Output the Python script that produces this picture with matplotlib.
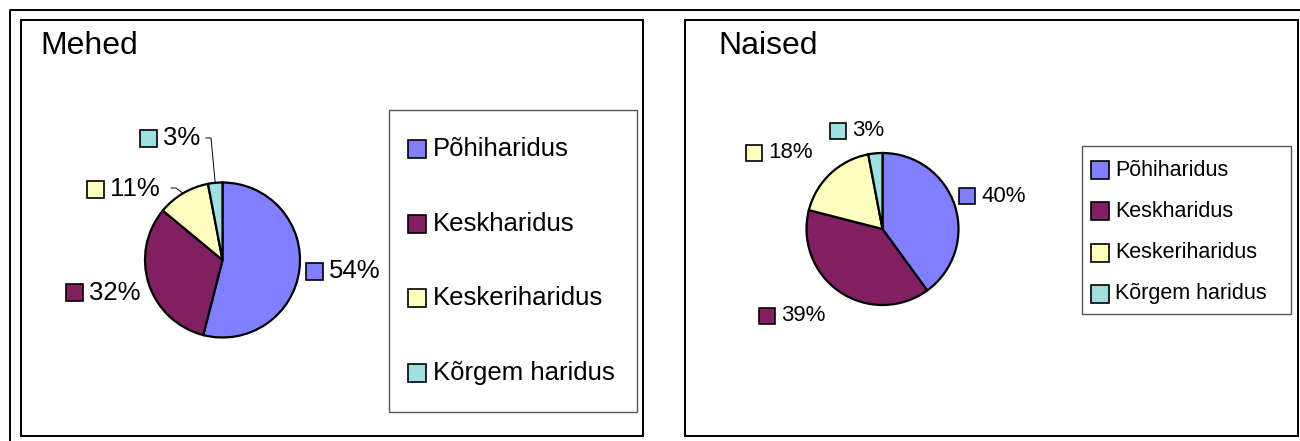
import matplotlib.pyplot as plt
from matplotlib.patches import Rectangle

plt.rcParams['font.family'] = ['Liberation Sans', 'DejaVu Sans']

# data
categories = ["Põhiharidus", "Keskharidus", "Keskeriharidus", "Kõrgem haridus"]
colors = ["#8080FF", "#802060", "#FFFFC0", "#A0E0E0"]
men_share = [54, 32, 11, 3]
women_share = [40, 39, 18, 3]
panel_titles = ["Mehed", "Naised"]

W, H = 1300, 441
fig = plt.figure(figsize=(13, 4.41), dpi=100)
fig.patch.set_facecolor("white")

# full-figure axes working in pixel coordinates (y down) for frames, labels, legends
bg = fig.add_axes([0, 0, 1, 1])
bg.set_xlim(0, W)
bg.set_ylim(H, 0)
bg.axis("off")

# outer frame (cropped on right / bottom) and the two panel boxes
bg.plot([10, 10, W], [H, 10, 10], color="black", lw=1.4, solid_capstyle="butt")
bg.add_patch(Rectangle((21, 20), 622, 416, fill=False, ec="black", lw=1.4))
bg.add_patch(Rectangle((685, 20), 613, 416, fill=False, ec="black", lw=1.4))
bg.text(40, 46, panel_titles[0], fontsize=23, va="center", ha="left")
bg.text(718, 46, panel_titles[1], fontsize=23, va="center", ha="left")


def draw_pie(values, cx, cy, r):
    ax = fig.add_axes([(cx - r) / W, (H - cy - r) / H, 2 * r / W, 2 * r / H])
    wedges, _ = ax.pie(values, colors=colors, startangle=90, counterclock=False,
                       radius=1, wedgeprops=dict(edgecolor="black", linewidth=1.6))
    ax.set_xlim(-1, 1)
    ax.set_ylim(-1, 1)
    ax.set_aspect("auto")
    ax.axis("off")
    return ax, wedges


def edge_point(ax, wedge):
    import numpy as np
    mid = np.deg2rad((wedge.theta1 + wedge.theta2) / 2)
    disp = ax.transData.transform((np.cos(mid), np.sin(mid)))
    return bg.transData.inverted().transform(disp)


def pct_label(x, y, val, color, size, fs):
    bg.add_patch(Rectangle((x, y - size / 2), size, size, fc=color, ec="black", lw=1.2))
    bg.text(x + size + 6, y, f"{val}%", fontsize=fs, va="center", ha="left")


# men
ax_m, wedges_m = draw_pie(men_share, 222.5, 260, 77.5)
men_lbl = [(306, 271), (66, 292.5), (87, 189.5), (140, 138)]
for (x, y), v, c in zip(men_lbl, men_share, colors):
    pct_label(x, y, v, c, 17, 18.5)
ex, ey = edge_point(ax_m, wedges_m[3])
bg.plot([206, 211, ex], [138, 138, ey], color="black", lw=0.7)
ex, ey = edge_point(ax_m, wedges_m[2])
bg.plot([171, 176, ex], [188, 188, ey], color="black", lw=0.7)

# women
ax_w, wedges_w = draw_pie(women_share, 882.5, 229, 76)
women_lbl = [(959, 196), (759, 315.5), (746, 153), (830, 130.5)]
for (x, y), v, c in zip(women_lbl, women_share, colors):
    pct_label(x, y, v, c, 16, 16)

# legends
bg.add_patch(Rectangle((389, 110), 248, 302, fill=False, ec="#555555", lw=1.0))
for i, (name, c) in enumerate(zip(categories, colors)):
    y = 149 + i * 74.7
    bg.add_patch(Rectangle((408, y - 9), 18, 18, fc=c, ec="black", lw=1.2))
    bg.text(433, y, name, fontsize=18.5, va="center", ha="left")

bg.add_patch(Rectangle((1082, 146), 209, 168, fill=False, ec="#555555", lw=1.0))
for i, (name, c) in enumerate(zip(categories, colors)):
    y = 170 + i * 41.3
    bg.add_patch(Rectangle((1091, y - 9), 18, 18, fc=c, ec="black", lw=1.2))
    bg.text(1115, y, name, fontsize=15.5, va="center", ha="left")

fig.savefig("out.png", dpi=100)
